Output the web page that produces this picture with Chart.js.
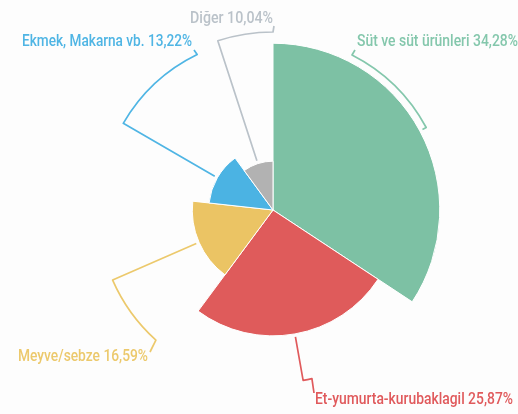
<!DOCTYPE html>
<html>
<head>
<meta charset="utf-8">
<script src="https://cdn.jsdelivr.net/npm/chart.js@4.4.1/dist/chart.umd.min.js"></script>
<style>
    html, body { margin: 0; padding: 0; background: #fdfdfd; }
    #wrap { width: 518px; height: 414px; }
</style>
</head>
<body>
<div id="wrap"><canvas id="myChart"></canvas></div>
<script>
// Data
const categories = ['Süt ve süt ürünleri', 'Et-yumurta-kurubaklagil', 'Meyve/sebze', 'Ekmek, Makarna vb.', 'Diğer'];
const shares = [34.28, 25.87, 16.59, 13.22, 10.04];
const shareLabels = ['34,28%', '25,87%', '16,59%', '13,22%', '10,04%'];

const sliceColors = ['#7dc1a4', '#df5b5b', '#ebc464', '#4bb3e3', '#b2b2b2'];
const textColors = ['#84c7ac', '#e05a5c', '#ecc96c', '#4fb5e4', '#bac2c9'];

// Leader/label layout: leader radius, bend angle (deg clockwise from top), end point, text box
const labelLayout = [
    { R: 174, bend: 27,  end: [355, 50],  tx: 357, ty: 42,  align: 'left',  w: 161 },
    { R: 173, bend: 167, end: [314, 393], tx: 315, ty: 400, align: 'left',  w: 198 },
    { R: 175, bend: 222, end: [150, 352], tx: 148, ty: 357, align: 'right', w: 130 },
    { R: 173, bend: 334, end: [194, 50],  tx: 192, ty: 42,  align: 'right', w: 170 },
    { R: 178, bend: 360, end: [274, 26],  tx: 273, ty: 19,  align: 'right', w: 83 }
];

const leaderPlugin = {
    id: 'leaders',
    afterDatasetsDraw(chart) {
        const ctx = chart.ctx;
        const arcs = chart.getDatasetMeta(0).data;
        arcs.forEach((arc, i) => {
            const lay = labelLayout[i];
            const cx = arc.x, cy = arc.y;
            const mid = (arc.startAngle + arc.endAngle) / 2;
            const bend = (lay.bend - 90) * Math.PI / 180;
            const r0 = arc.outerRadius + 3;

            ctx.save();
            ctx.strokeStyle = textColors[i];
            ctx.lineWidth = 1.7;
            ctx.lineJoin = 'round';
            ctx.beginPath();
            ctx.moveTo(cx + r0 * Math.cos(mid), cy + r0 * Math.sin(mid));
            ctx.lineTo(cx + lay.R * Math.cos(mid), cy + lay.R * Math.sin(mid));
            ctx.arc(cx, cy, lay.R, mid, bend, bend < mid);
            ctx.lineTo(lay.end[0], lay.end[1]);
            ctx.stroke();

            // label text, squeezed to the narrow look of the original
            const text = categories[i] + ' ' + shareLabels[i];
            ctx.font = '500 17px Roboto';
            ctx.fillStyle = textColors[i];
            ctx.textBaseline = 'middle';
            ctx.textAlign = lay.align;
            const sx = lay.w / ctx.measureText(text).width;
            ctx.translate(lay.tx, lay.ty);
            ctx.scale(sx, 1);
            ctx.fillText(text, 0, 0);
            ctx.restore();
        });
    }
};

var ctx = document.getElementById('myChart').getContext('2d');
var myChart = new Chart(ctx, {
    type: 'polarArea',
    data: {
        labels: categories,
        datasets: [{
            data: shares,
            backgroundColor: sliceColors,
            borderColor: '#ffffff',
            borderWidth: 1,
            angle: (c) => shares[c.dataIndex] * 3.6  // slice angle follows the share too
        }]
    },
    options: {
        responsive: true,
        maintainAspectRatio: false,
        animation: false,
        layout: {
            padding: { left: 93, right: 65, top: 30, bottom: 24 }
        },
        scales: {
            r: {
                display: false,
                min: 0,
                max: 37
            }
        },
        plugins: {
            legend: { display: false },
            tooltip: { enabled: false }
        }
    },
    plugins: [leaderPlugin]
});
</script>
</body>
</html>
